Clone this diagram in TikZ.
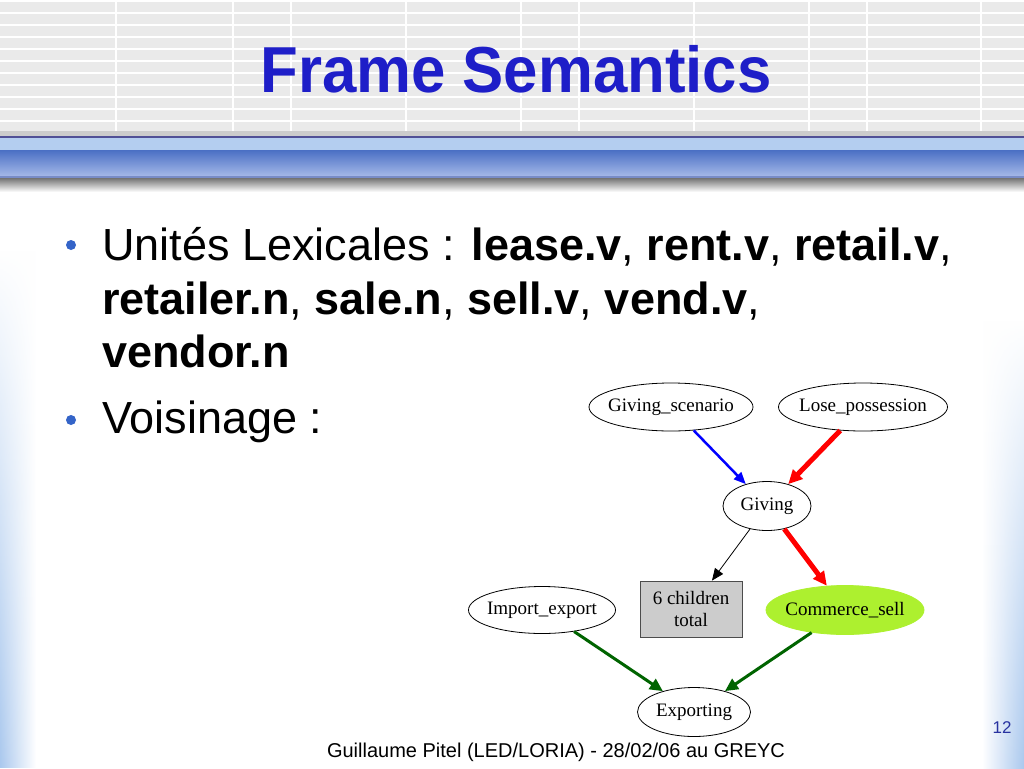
\documentclass[tikz,border=0pt]{standalone}
\usepackage{fontspec}
\setmainfont{Liberation Sans}
\newfontfamily\graphfont{Liberation Serif}
\usetikzlibrary{shapes.geometric,arrows.meta,fadings}
\definecolor{titleblue}{RGB}{30,30,200}
\definecolor{bulletblue}{RGB}{52,100,200}
\definecolor{bandline}{RGB}{80,80,150}
\definecolor{bandlight}{RGB}{180,206,240}
\definecolor{banddark}{RGB}{74,111,196}
\definecolor{bandpale}{RGB}{164,184,232}
\definecolor{bandedge}{RGB}{120,140,200}
\definecolor{edgeblue}{RGB}{170,200,238}
\definecolor{stripegrey}{RGB}{234,234,234}
\definecolor{sellgreen}{RGB}{173,240,47}
\definecolor{arcgreen}{RGB}{0,100,0}
\definecolor{pagenum}{RGB}{40,50,160}
\begin{document}
\begin{tikzpicture}[x=1pt, y=-1pt,
  framenode/.style={ellipse, draw, line width=0.8pt, inner xsep=-5pt, inner ysep=0pt,
    font=\graphfont\fontsize{19}{22}\selectfont},
  childbox/.style={rectangle, draw=black!70, fill=black!20, line width=0.8pt, align=center,
    minimum width=102pt, minimum height=56pt, inner sep=0pt, font=\graphfont\fontsize{19}{22}\selectfont},
  bullettext/.style={anchor=base west, inner sep=0pt, font=\fontsize{45}{54}\selectfont}]
\useasboundingbox (0,0) rectangle (1024,768);
\fill[white] (0,0) rectangle (1024,768);
% header
\fill[stripegrey] (0,0) rectangle (1024,135);
\foreach \y in {0,12,...,132} \fill[white] (0,\y) rectangle (1024,\y+2);
\foreach \x in {115,232,290,405,520,578,693,808,866,980} \fill[white] (\x,0) rectangle (\x+2,135);
\fill[black!20] (0,131) rectangle (1024,136);
\fill[bandline] (0,136) rectangle (1024,138);
\fill[bandlight] (0,138) rectangle (1024,150);
\shade[top color=banddark, bottom color=bandpale] (0,150) rectangle (1024,176);
\fill[bandedge] (0,176) rectangle (1024,178);
\shade[top color=black!55, bottom color=white] (0,178) rectangle (1024,192);
\shade[left color=edgeblue, right color=white, path fading=north] (0,250) rectangle (36,768);
\shade[left color=white, right color=edgeblue, path fading=north] (982,320) rectangle (1024,768);
\node[anchor=base, text=titleblue, xscale=0.95, font=\bfseries\fontsize{65}{70}\selectfont] (title) at (516,92) {Frame Semantics};
% bullets
\fill[bulletblue] (71,245) circle (5);
\fill[bulletblue] (71,420) circle (5);
\node[bullettext] (lex1) at (102,260) {Unités Lexicales : \textbf{lease.v}, \textbf{rent.v}, \textbf{retail.v},};
\node[bullettext] (lex2) at (102,314) {\textbf{retailer.n}, \textbf{sale.n}, \textbf{sell.v}, \textbf{vend.v},};
\node[bullettext] (lex3) at (102,367) {\textbf{vendor.n}};
\node[bullettext] (voisin) at (102,433) {Voisinage :};
% graph
\node[framenode, minimum width=164pt, minimum height=48pt] (gscen) at (671,407) {Giving\_scenario};
\node[framenode, minimum width=169pt, minimum height=48pt] (lposs) at (863,407) {Lose\_possession};
\node[framenode, minimum width=88pt, minimum height=49pt] (giving) at (767,506) {Giving};
\node[childbox] (kids) at (691,609) {6 children\\total};
\node[framenode, minimum width=147pt, minimum height=47pt] (impexp) at (542,610) {Import\_export};
\node[framenode, fill=sellgreen, draw=sellgreen, minimum width=158pt, minimum height=49pt] (csell) at (845,610) {Commerce\_sell};
\node[framenode, minimum width=113pt, minimum height=49pt] (export) at (694,712) {Exporting};
\draw[blue, line width=2.5pt, -{Triangle[length=12pt,width=10pt]}] (gscen) -- (giving);
\draw[red, line width=5pt, -{Triangle[length=14pt,width=13pt]}] (lposs) -- (giving);
\draw[black, line width=0.8pt, -{Triangle[length=12pt,width=10pt]}] (giving) -- (kids);
\draw[red, line width=5pt, -{Triangle[length=14pt,width=13pt]}] (giving) -- (csell);
\draw[arcgreen, line width=3pt, -{Triangle[length=13pt,width=12pt]}] (impexp) -- (export);
\draw[arcgreen, line width=3pt, -{Triangle[length=13pt,width=12pt]}] (csell) -- (export);
% footer
\node[anchor=base, font=\fontsize{20}{24}\selectfont] (foot) at (556,757) {Guillaume Pitel (LED/LORIA) - 28/02/06 au GREYC};
\node[anchor=base, text=pagenum, font=\fontsize{17}{20}\selectfont] (pnum) at (1002,733) {12};
\end{tikzpicture}
\end{document}
